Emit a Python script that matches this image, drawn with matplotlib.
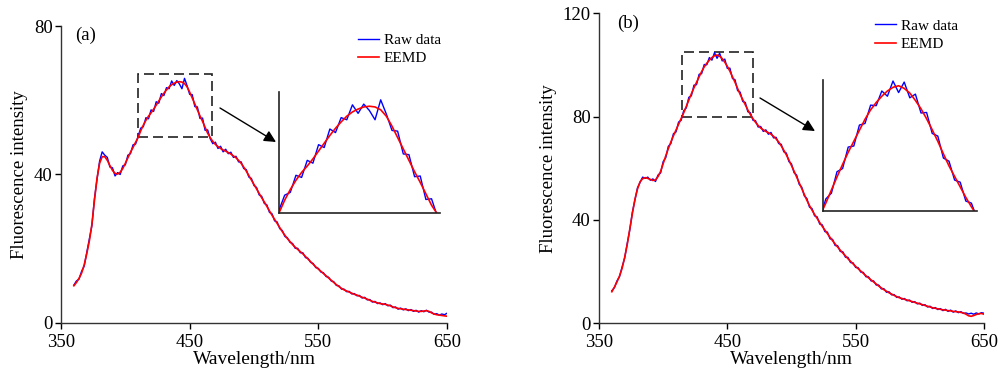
import matplotlib
matplotlib.use("Agg")
import matplotlib.pyplot as plt
from matplotlib.patches import Rectangle, FancyArrowPatch
import numpy as np

plt.rcParams['font.family'] = ['Liberation Serif', 'DejaVu Serif']

# wavelength grid (nm), every 2 nm
wavelength = np.arange(360, 651, 2)

# panel (a)
raw_a = [10.2, 11.3, 11.8, 13.9, 15.3, 18.9, 22.4, 26.2, 33.5, 38.7,
         43.6, 46.1, 45.2, 44.6, 42.0, 41.8, 39.6, 40.5, 40.0, 42.3,
         42.6, 45.2, 45.6, 48.0, 48.2, 50.4, 52.5, 52.9, 55.3, 55.0,
         57.4, 57.0, 59.6, 59.2, 61.8, 61.3, 63.4, 63.1, 65.2, 64.0,
         65.3, 64.4, 63.1, 65.9, 63.9, 61.6, 61.5, 58.3, 58.2, 55.1,
         55.2, 51.9, 52.0, 49.6, 48.3, 48.7, 47.0, 47.6, 46.1, 46.8,
         45.6, 46.0, 44.6, 44.9, 43.4, 43.4, 41.6, 41.3, 39.3, 38.9,
         37.0, 36.5, 34.5, 34.1, 32.2, 31.8, 29.8, 29.4, 27.5, 27.2,
         25.4, 24.9, 23.3, 22.9, 21.7, 21.4, 20.1, 20.1, 18.9, 18.9,
         17.6, 17.4, 16.3, 16.0, 14.9, 14.7, 13.7, 13.5, 12.5, 12.3,
         11.3, 11.1, 10.1, 10.0, 9.1, 9.1, 8.4, 8.5, 7.8, 7.9,
         7.3, 7.4, 6.7, 6.9, 6.2, 6.3, 5.6, 5.8, 5.2, 5.4,
         4.9, 5.2, 4.6, 4.8, 4.1, 4.3, 3.7, 4.0, 3.5, 3.8,
         3.3, 3.6, 3.1, 3.4, 2.9, 3.3, 3.0, 3.4, 2.9, 2.9,
         2.3, 2.5, 2.1, 2.4, 2.2, 2.6]
eemd_a = [10.0, 10.9, 12.0, 13.4, 15.6, 18.6, 22.0, 26.5, 33.0, 39.0,
          43.0, 44.8, 44.8, 43.8, 42.4, 41.1, 40.3, 40.1, 40.6, 41.6,
          43.0, 44.5, 46.0, 47.3, 48.7, 50.0, 51.8, 53.3, 54.6, 55.7,
          56.6, 57.6, 58.7, 59.8, 60.9, 61.9, 62.8, 63.6, 64.2, 64.6,
          64.9, 65.0, 64.9, 64.5, 63.6, 62.2, 60.6, 59.0, 57.4, 55.8,
          54.3, 52.7, 51.1, 49.9, 48.9, 48.1, 47.5, 47.0, 46.6, 46.3,
          45.9, 45.5, 45.0, 44.5, 43.8, 43.0, 42.0, 40.9, 39.7, 38.5,
          37.3, 36.1, 34.9, 33.7, 32.6, 31.4, 30.2, 29.0, 27.9, 26.8,
          25.7, 24.6, 23.6, 22.7, 21.9, 21.1, 20.4, 19.8, 19.2, 18.6,
          17.9, 17.2, 16.5, 15.8, 15.1, 14.5, 13.9, 13.3, 12.7, 12.1,
          11.5, 10.9, 10.3, 9.8, 9.3, 8.9, 8.6, 8.3, 8.0, 7.7,
          7.5, 7.2, 6.9, 6.7, 6.4, 6.1, 5.8, 5.6, 5.4, 5.2,
          5.1, 5.0, 4.8, 4.6, 4.3, 4.1, 3.9, 3.8, 3.7, 3.6,
          3.5, 3.4, 3.3, 3.2, 3.1, 3.1, 3.2, 3.3, 3.1, 2.7,
          2.4, 2.2, 2.1, 2.0, 1.9, 1.8]

# panel (b)
raw_b = [12.6, 13.8, 16.4, 18.1, 21.8, 25.3, 30.9, 36.2, 43.0, 47.7,
         52.5, 54.6, 56.6, 56.1, 56.6, 55.4, 55.9, 54.9, 57.4, 58.2,
         62.6, 64.1, 68.5, 69.6, 73.4, 74.1, 77.9, 78.6, 82.3, 83.4,
         87.5, 88.1, 92.2, 92.4, 96.4, 96.7, 100.2, 100.1, 102.9, 101.9,
         104.8, 102.6, 104.6, 101.6, 102.3, 98.7, 98.8, 94.8, 94.3, 90.1,
         89.5, 85.9, 85.5, 81.9, 81.5, 78.6, 78.4, 76.0, 76.2, 74.3,
         74.9, 73.2, 73.9, 71.8, 72.0, 69.6, 69.3, 66.4, 65.9, 62.6,
         61.7, 58.3, 57.4, 53.8, 52.7, 49.3, 48.3, 45.0, 44.4, 41.6,
         41.2, 38.4, 38.1, 35.5, 35.3, 32.7, 32.5, 30.1, 30.0, 27.8,
         27.7, 25.6, 25.5, 23.5, 23.4, 21.6, 21.5, 19.8, 19.7, 18.0,
         18.0, 16.4, 16.4, 14.8, 14.8, 13.3, 13.4, 12.0, 12.2, 11.0,
         11.1, 10.0, 10.2, 9.3, 9.6, 8.7, 9.0, 8.1, 8.4, 7.5,
         7.8, 6.9, 7.2, 6.3, 6.6, 5.7, 6.1, 5.3, 5.7, 4.9,
         5.4, 4.6, 5.1, 4.3, 4.8, 4.1, 4.5, 3.8, 4.0, 3.6,
         3.9, 3.5, 4.0, 3.6, 4.1, 3.9]
eemd_b = [12.2, 14.0, 16.0, 18.3, 21.3, 25.5, 30.5, 36.5, 42.5, 48.0,
          52.0, 54.8, 56.0, 56.4, 56.1, 55.7, 55.3, 55.5, 56.8, 58.8,
          61.8, 64.8, 67.6, 70.2, 72.6, 74.8, 77.0, 79.2, 81.5, 84.0,
          86.5, 88.9, 91.2, 93.3, 95.4, 97.5, 99.3, 100.7, 101.9, 102.9,
          103.6, 103.9, 103.4, 102.5, 101.1, 99.5, 97.6, 95.5, 93.3, 90.9,
          88.6, 86.6, 84.6, 82.6, 80.8, 79.2, 77.8, 76.6, 75.6, 74.9,
          74.3, 73.8, 73.2, 72.4, 71.4, 70.2, 68.7, 67.0, 65.2, 63.2,
          61.1, 58.9, 56.7, 54.4, 52.1, 49.8, 47.6, 45.6, 43.8, 42.1,
          40.6, 39.0, 37.5, 36.1, 34.7, 33.3, 32.0, 30.7, 29.5, 28.3,
          27.2, 26.1, 25.0, 24.0, 23.0, 22.0, 21.1, 20.2, 19.3, 18.4,
          17.6, 16.8, 16.0, 15.2, 14.4, 13.7, 13.0, 12.4, 11.8, 11.3,
          10.8, 10.3, 9.9, 9.6, 9.3, 9.0, 8.7, 8.4, 8.1, 7.8,
          7.5, 7.2, 6.9, 6.6, 6.3, 6.0, 5.8, 5.6, 5.4, 5.2,
          5.1, 4.9, 4.8, 4.6, 4.5, 4.4, 4.2, 4.0, 3.5, 2.9,
          2.7, 3.0, 3.4, 3.7, 3.8, 3.5]

fig = plt.figure(figsize=(10, 3.72), dpi=100)

panels = [
    dict(pos=[0.061, 0.132, 0.386, 0.798], raw=raw_a, eemd=eemd_a, ymax=80,
         yticks=[0, 40, 80], label="(a)", label_xy=(0.036, 0.970),
         leg_xy=(0.769, 0.976), box=(410, 467, 50, 67),
         inset=[0.279, 0.4274, 0.161, 0.3253],
         arrow=((0.220, 0.7097), (0.276, 0.6183))),
    dict(pos=[0.599, 0.131, 0.385, 0.833], raw=raw_b, eemd=eemd_b, ymax=120,
         yticks=[0, 40, 80, 120], label="(b)", label_xy=(0.046, 0.969),
         leg_xy=(0.716, 0.982), box=(415, 470, 80, 105),
         inset=[0.823, 0.4328, 0.154, 0.3522],
         arrow=((0.760, 0.7366), (0.815, 0.6478))),
]

for p in panels:
    ax = fig.add_axes(p["pos"])
    ax.plot(wavelength, p["raw"], color='#0000ff', lw=1.0, label='Raw data')
    ax.plot(wavelength, p["eemd"], color='#ff0000', lw=1.2, label='EEMD')
    ax.set_xlim(350, 650)
    ax.set_ylim(0, p["ymax"])
    ax.set_xticks([350, 450, 550, 650])
    ax.set_yticks(p["yticks"])
    ax.spines["top"].set_visible(False)
    ax.spines["right"].set_visible(False)
    for s in ["left", "bottom"]:
        ax.spines[s].set_linewidth(1.0)
        ax.spines[s].set_color('#333333')
    ax.tick_params(direction='out', length=4, width=1, labelsize=13.5)
    ax.tick_params(axis='x', pad=4)
    ax.tick_params(axis='y', pad=2)
    ax.set_xlabel("Wavelength/nm", fontsize=14, labelpad=0)
    ax.set_ylabel("Fluorescence intensity", fontsize=13.5, labelpad=4)
    ax.text(p["label_xy"][0], p["label_xy"][1], p["label"], transform=ax.transAxes,
            fontsize=13.5, va='center', ha='left')
    ax.legend(loc='upper left', bbox_to_anchor=p["leg_xy"], frameon=False,
              fontsize=11, handlelength=1.4, handletextpad=0.3,
              labelspacing=0.3, borderpad=0, borderaxespad=0)

    x0, x1, y0, y1 = p["box"]
    ax.add_patch(Rectangle((x0, y0), x1 - x0, y1 - y0, fill=False,
                           ec='#222222', lw=1.2, ls=(0, (6, 3))))

    ins = fig.add_axes(p["inset"])
    ins.plot(wavelength, p["raw"], color='#0000ff', lw=1.0)
    ins.plot(wavelength, p["eemd"], color='#ff0000', lw=1.2)
    ins.set_xlim(x0, x1)
    ins.set_ylim(y0, y1)
    ins.set_xticks([])
    ins.set_yticks([])
    ins.patch.set_alpha(0)
    ins.spines["top"].set_visible(False)
    ins.spines["right"].set_visible(False)
    for s in ["left", "bottom"]:
        ins.spines[s].set_linewidth(1.2)
        ins.spines[s].set_color('#222222')

    (ax_, ay_), (bx_, by_) = p["arrow"]
    fig.add_artist(FancyArrowPatch(
        (ax_, ay_), (bx_, by_), transform=fig.transFigure,
        arrowstyle='-|>,head_length=7,head_width=3.5', color='black', lw=1.0,
        shrinkA=0, shrinkB=0))

fig.savefig("out.png", dpi=100)
